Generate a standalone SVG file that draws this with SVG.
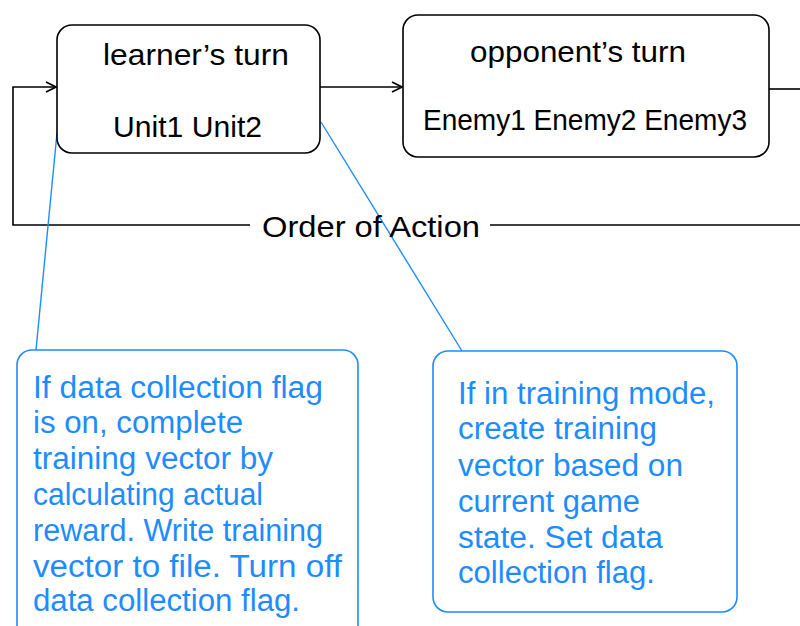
<svg xmlns="http://www.w3.org/2000/svg" width="800" height="626" viewBox="0 0 800 626">
<defs>
<style>
.box{fill:#fff;stroke:#000;stroke-width:1.6}
.note{fill:#fff;stroke:#1E8CFF;stroke-width:1.6}
.t{font-family:"Liberation Sans",Arial,sans-serif;font-size:30px;fill:#000}
.b{font-family:"Liberation Sans",Arial,sans-serif;font-size:31px;fill:#1E8CFF}
.ln{fill:none;stroke:#000;stroke-width:1.6}
.bl{fill:none;stroke:#1E8CFF;stroke-width:1.4}
</style>
<marker id="ah" viewBox="0 0 12 12" refX="11" refY="6" markerWidth="12" markerHeight="12" markerUnits="userSpaceOnUse" orient="auto">
<path d="M1,1 L11,6 L1,11" fill="none" stroke="#000" stroke-width="1.6"/>
</marker>
</defs>
<rect width="800" height="626" fill="#fff"/>
<g id="connectors">
<path class="ln" d="M250,225 H13 V87 H56" marker-end="url(#ah)"/>
<path class="ln" d="M490,225 H800"/>
<path class="ln" d="M320,87 H402" marker-end="url(#ah)"/>
<path class="ln" d="M769,89 H800"/>
<path class="bl" d="M57,133 L36,350"/>
<path class="bl" d="M321,122 L462,351"/>
<text class="t" x="262" y="237" textLength="218" lengthAdjust="spacingAndGlyphs">Order of Action</text>
</g>
<g id="learner">
<rect class="box" x="57" y="25" width="263" height="128" rx="15"/>
<text class="t" x="103" y="65" textLength="186" lengthAdjust="spacingAndGlyphs">learner’s turn</text>
<text class="t" x="113" y="137" textLength="149" lengthAdjust="spacingAndGlyphs">Unit1 Unit2</text>
</g>
<g id="opponent">
<rect class="box" x="403" y="15" width="366" height="142" rx="15"/>
<text class="t" x="470" y="62" textLength="216" lengthAdjust="spacingAndGlyphs">opponent’s turn</text>
<text class="t" x="423" y="130" textLength="324" lengthAdjust="spacingAndGlyphs">Enemy1 Enemy2 Enemy3</text>
</g>
<g id="note1">
<rect class="note" x="17" y="350" width="341" height="290" rx="15"/>
<text class="b" x="33" y="398" textLength="290" lengthAdjust="spacingAndGlyphs">If data collection flag</text>
<text class="b" x="33" y="433" textLength="210" lengthAdjust="spacingAndGlyphs">is on, complete</text>
<text class="b" x="33" y="469" textLength="240" lengthAdjust="spacingAndGlyphs">training vector by</text>
<text class="b" x="33" y="505" textLength="230" lengthAdjust="spacingAndGlyphs">calculating actual</text>
<text class="b" x="33" y="541" textLength="290" lengthAdjust="spacingAndGlyphs">reward. Write training</text>
<text class="b" x="33" y="577" textLength="309" lengthAdjust="spacingAndGlyphs">vector to file. Turn off</text>
<text class="b" x="33" y="611" textLength="267" lengthAdjust="spacingAndGlyphs">data collection flag.</text>
</g>
<g id="note2">
<rect class="note" x="433" y="351" width="304" height="261" rx="15"/>
<text class="b" x="458" y="404" textLength="257" lengthAdjust="spacingAndGlyphs">If in training mode,</text>
<text class="b" x="458" y="439" textLength="199" lengthAdjust="spacingAndGlyphs">create training</text>
<text class="b" x="458" y="476" textLength="225" lengthAdjust="spacingAndGlyphs">vector based on</text>
<text class="b" x="458" y="512" textLength="182" lengthAdjust="spacingAndGlyphs">current game</text>
<text class="b" x="458" y="548" textLength="205" lengthAdjust="spacingAndGlyphs">state. Set data</text>
<text class="b" x="458" y="583" textLength="197" lengthAdjust="spacingAndGlyphs">collection flag.</text>
</g>
</svg>
